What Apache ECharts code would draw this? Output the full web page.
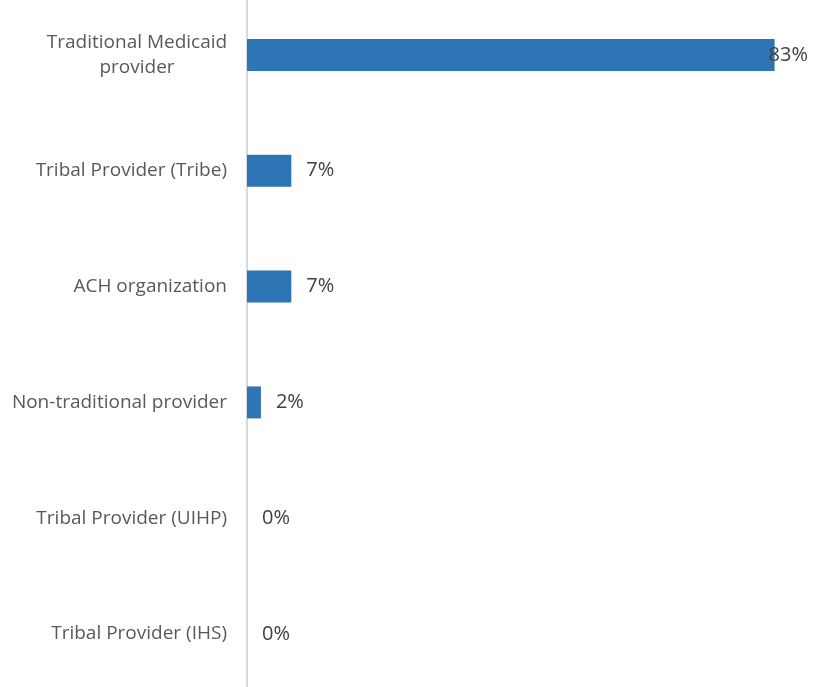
<!DOCTYPE html>
<html>
<head>
<meta charset="utf-8">
<script src="https://cdn.jsdelivr.net/npm/echarts@6/dist/echarts.min.js"></script>
<style>html,body{margin:0;padding:0;background:#fff;overflow:hidden;width:822px;height:687px;position:relative}#c{position:absolute;left:0;top:-3px;width:822px;height:695px}</style>
</head>
<body>
<div id="c"></div>
<script>
const categories = ['Traditional Medicaid provider', 'Tribal Provider (Tribe)', 'ACH organization', 'Non-traditional provider', 'Tribal Provider (UIHP)', 'Tribal Provider (IHS)'];
const values = [83.3, 7, 7, 2.2, 0, 0];
const labelText = ['83%', '7%', '7%', '2%', '0%', '0%'];

const chart = echarts.init(document.getElementById('c'));
const font = 'Open Sans';
chart.setOption({
  animation: false,
  grid: { left: 247, right: 5, top: 0, bottom: 0, containLabel: false },
  xAxis: { type: 'value', min: 0, max: 90, show: false },
  yAxis: {
    type: 'category', data: categories, inverse: true,
    axisLine: { show: true, lineStyle: { color: '#d9d9d9', width: 2 } },
    axisTick: { show: false },
    splitLine: { show: false },
    axisLabel: {
      margin: 20, fontFamily: font, fontSize: 19, color: '#595959',
      formatter: function (v) {
        if (v === 'Traditional Medicaid provider') return '{c|Traditional Medicaid}\n{c|provider}';
        return v;
      },
      rich: { c: { width: 180, align: 'center', fontFamily: font, fontSize: 19, color: '#595959', lineHeight: 25 } }
    }
  },
  series: [{
    type: 'bar', barWidth: 32,
    itemStyle: { color: '#2e75b6' },
    data: values.map((v, i) => {
      const d = { value: v };
      if (i === 0) d.label = { distance: -6 };
      return d;
    }),
    label: {
      show: true, position: 'right', distance: 15,
      fontFamily: font, fontSize: 20, color: '#404040',
      formatter: p => labelText[p.dataIndex]
    }
  }]
});
</script>
</body>
</html>
